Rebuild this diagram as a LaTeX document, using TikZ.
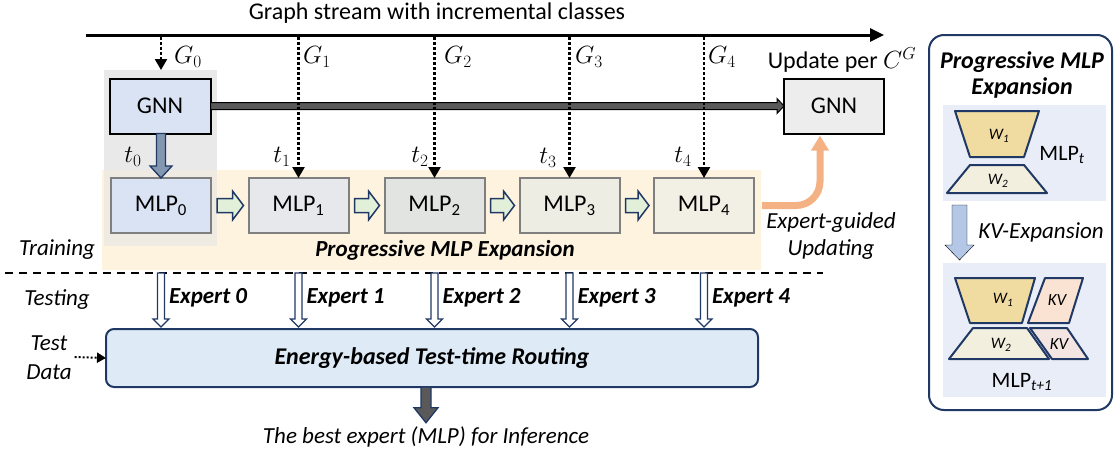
\documentclass[tikz,border=0pt]{standalone}
\usepackage{fontspec}
\setmainfont{Carlito}
\usetikzlibrary{arrows.meta,calc}

\definecolor{navy}{HTML}{203864}
\definecolor{gnnfill}{HTML}{DAE3F3}
\definecolor{gnnright}{HTML}{EDEDED}
\definecolor{mlpa}{HTML}{E6E8EB}
\definecolor{mlpb}{HTML}{E1E4E0}
\definecolor{mlpc}{HTML}{EEEDE3}
\definecolor{mlpd}{HTML}{F2EFE5}
\definecolor{mlpedge}{HTML}{7F7F7F}
\definecolor{stagebg}{HTML}{FEF3DF}
\definecolor{firstbg}{HTML}{E9E9E9}
\definecolor{overlapbg}{HTML}{F0EBE2}
\definecolor{routefill}{HTML}{DEEBF7}
\definecolor{stepgreen}{HTML}{E2F0D9}
\definecolor{initblue}{HTML}{8497B0}
\definecolor{darkfill}{HTML}{595959}
\definecolor{updorange}{HTML}{F4B183}
\definecolor{panelbg}{HTML}{E9EDF7}
\definecolor{wonefill}{HTML}{F0DBA1}
\definecolor{wtwofill}{HTML}{F2EFDF}
\definecolor{kvtop}{HTML}{FBE3D3}
\definecolor{kvbot}{HTML}{F3E5E1}
\definecolor{expblue}{HTML}{B4C7E7}

% block arrow pointing down: style, tail, tip, half shaft, half head, head length
\newcommand\downblock[6]{%
  \draw[#1] ($(#2)+(-#4,0)$) -- ($(#3)+(-#4,-#6)$) -- ($(#3)+(-#5,-#6)$) -- (#3)
    -- ($(#3)+(#5,-#6)$) -- ($(#3)+(#4,-#6)$) -- ($(#2)+(#4,0)$) -- cycle;}
% block arrow pointing right: style, tail, tip, half shaft, half head, head length
\newcommand\rightblock[6]{%
  \draw[#1] ($(#2)+(0,-#4)$) -- ($(#3)+(-#6,-#4)$) -- ($(#3)+(-#6,-#5)$) -- (#3)
    -- ($(#3)+(-#6,#5)$) -- ($(#3)+(-#6,#4)$) -- ($(#2)+(0,#4)$) -- cycle;}

\begin{document}
\begin{tikzpicture}[x=1pt,y=-1pt,
  every node/.style={inner sep=0pt, outer sep=0pt},
  txt/.style={font=\fontsize{24}{28}\selectfont},
  lbl/.style={font=\fontsize{23}{27}\selectfont\itshape},
  bilbl/.style={font=\fontsize{23}{27}\selectfont\bfseries\itshape},
  mathlbl/.style={font=\fontsize{25}{29}\selectfont},
  gnnbox/.style={draw=black, line width=2pt, minimum width=101pt, minimum height=55pt, txt},
  mlpbox/.style={draw=mlpedge, line width=2pt, minimum width=100pt, minimum height=55pt, txt},
  routebox/.style={draw=navy, line width=2pt, fill=routefill, rounded corners=8pt,
    minimum width=652pt, minimum height=58pt, font=\fontsize{24}{28}\selectfont\bfseries\itshape},
  stream/.style={line width=2.5pt, dash pattern=on 2.5pt off 2.5pt, -{Triangle[width=12pt,length=11pt]}},
  tdarrow/.style={line width=2pt, dash pattern=on 2pt off 2pt, -{Triangle[width=10pt,length=9pt]}},
  hollowarrow/.style={draw=navy, line width=1.3pt, fill=white, line join=miter},
  greenarrow/.style={draw=navy, line width=1.5pt, fill=stepgreen, line join=miter},
  initarrow/.style={draw=navy, line width=1.3pt, fill=initblue, line join=miter},
  flowarrow/.style={draw=black, line width=1pt, fill=darkfill, line join=miter},
  outarrow/.style={draw=navy, line width=1.3pt, fill=darkfill, line join=miter},
  wlayer/.style={draw=navy, line width=2pt, line join=round},
  wlbl/.style={font=\fontsize{16}{18}\selectfont\itshape},
  kvlbl/.style={font=\fontsize{17}{19}\selectfont\itshape},
]
\useasboundingbox (0,0) rectangle (1120,450);

% stage backgrounds
\fill[stagebg] (102,170) rectangle (761,270);
\fill[firstbg] (104,70) rectangle (217,170);
\fill[overlapbg] (104,170) rectangle (217,246);

% title and stream axis
\node[txt] (title) at (437,13) {Graph stream with incremental classes};
\coordinate (tlA) at (86,35);
\coordinate (tlB) at (884,35);
\draw[line width=3pt, -{Triangle[width=13pt,length=14pt]}] (tlA) -- (tlB);

% GNN backbones
\node[gnnbox, fill=gnnfill] (gnnA) at (160,106) {GNN};
\node[gnnbox, fill=gnnright, minimum width=100pt] (gnnB) at (834,106) {GNN};
\node[txt] (upd) at (842,60) {Update per $C^{G}$};

% MLP experts
\foreach \i/\x/\c in {0/161/gnnfill,1/298.5/mlpa,2/434.5/mlpb,3/569.5/mlpc,4/704/mlpd}
  \node[mlpbox, fill=\c] (mlp\i) at (\x,205.5) {MLP\textsubscript{\i}};

% backbone carried forward
\rightblock{flowarrow}{gnnA.east}{gnnB.west}{3.5}{7.5}{7}

% initial distillation into the first expert
\coordinate (ia) at (mlp0.north |- gnnA.south);
\downblock{initarrow}{ia}{mlp0.north}{4.5}{11}{12}

% arrival of each graph snapshot
\coordinate (g0end) at (161,70);
\draw[stream] (g0end |- tlA) ++(0,2) -- (g0end);
\foreach \i in {1,...,4}
  \draw[stream] ($(mlp\i.north |- tlA)+(0,2)$) -- (mlp\i.north);

\node[mathlbl] (G0) at (188,57) {$G_0$};
\node[mathlbl] (G1) at (317,57) {$G_1$};
\node[mathlbl] (G2) at (458,57) {$G_2$};
\node[mathlbl] (G3) at (589,57) {$G_3$};
\node[mathlbl] (G4) at (722,57) {$G_4$};
\node[mathlbl] (t0) at (133,157) {$t_0$};
\node[mathlbl] (t1) at (282,157) {$t_1$};
\node[mathlbl] (t2) at (420,157) {$t_2$};
\node[mathlbl] (t3) at (548,158) {$t_3$};
\node[mathlbl] (t4) at (683,157) {$t_4$};

% progressive expansion steps
\foreach \i/\j in {0/1,1/2,2/3,3/4}{
  \coordinate (ga\i) at ($(mlp\i.east)+(6,0)$);
  \coordinate (gb\i) at ($(mlp\j.west)+(-5,0)$);
  \rightblock{greenarrow}{ga\i}{gb\i}{7}{14.5}{11}
}

% expert-guided update of the backbone
\coordinate (ou) at ($(mlp4.east)+(8,0)$);
\coordinate (ot) at ($(gnnB.south)+(-14,2)$);
\draw[updorange, line width=7pt, rounded corners=24pt,
  -{Triangle[width=17pt,length=15pt]}] (ou) -| (ot);
\node[lbl, align=center] (egu) at (831,236) {Expert-guided\\Updating};

\node[lbl] (train) at (57,250) {Training};
\node[bilbl] (pme) at (445,250) {Progressive MLP Expansion};

% training / testing separator
\coordinate (sepL) at (5,273);
\coordinate (sepR) at (823,273);
\draw[line width=2pt, dash pattern=on 8pt off 6pt] (sepL) -- (sepR);
\node[lbl] (test) at (57,300) {Testing};

% test-time routing
\node[routebox] (route) at (432,358) {Energy-based Test-time Routing};
\foreach \i in {0,...,4}{
  \coordinate (e\i) at (mlp\i.south |- sepL);
  \coordinate (f\i) at ($(mlp\i.south |- route.north)+(0,-2)$);
  \downblock{hollowarrow}{e\i}{f\i}{3.5}{8}{8}
  \node[bilbl, anchor=west] (ex\i) at ($(e\i)+(8,25)$) {Expert \i};
}

\node[lbl, align=center, font=\fontsize{23}{29}\selectfont\itshape] (testd) at (49,358) {Test\\Data};
\coordinate (td) at ($(testd.east)+(3,-1)$);
\draw[tdarrow] (td) -- (route.west);

\node[lbl, font=\fontsize{23}{27}\selectfont\itshape] (best) at (426,437) {The best expert (MLP) for Inference};
\coordinate (bo1) at (best.north |- route.south);
\coordinate (bo2) at ($(best.north)+(0,-4)$);
\downblock{outarrow}{bo1}{bo2}{5}{12}{15}

% side panel: progressive MLP expansion
\draw[navy, line width=2pt, rounded corners=15pt] (929,35) rectangle (1112,410);
\node[font=\fontsize{24}{26}\selectfont\bfseries\itshape, align=center] (ptitle) at (1022,75) {Progressive MLP\\Expansion};

\fill[panelbg] (943,105) rectangle (1106,201);
\fill[panelbg] (943,263) rectangle (1106,397);

\draw[wlayer, fill=wonefill] (955,111) -- (1039,111) -- (1024,157) -- (970,157) -- cycle;
\draw[wlayer, fill=wtwofill] (970,165) -- (1024,165) -- (1047,193) -- (947,193) -- cycle;
\node[wlbl] (w1a) at (999,136) {W\textsubscript{1}};
\node[wlbl] (w2a) at (998,181) {W\textsubscript{2}};
\node[font=\fontsize{22}{26}\selectfont] (mlpt) at (1062,155) {MLP\textsubscript{\textit{t}}};

\coordinate (pa) at (959.5,205);
\coordinate (pb) at (959.5,260);
\downblock{fill=expblue}{pa}{pb}{7.5}{14.5}{15}
\node[lbl] (kvexp) at (1041,232) {KV-Expansion};

\draw[wlayer, fill=wonefill] (955,278) -- (1035,278) -- (1022,323) -- (970,323) -- cycle;
\draw[wlayer, fill=kvtop] (1045,278) -- (1083,278) -- (1069,323) -- (1028,323) -- cycle;
\draw[wlayer, fill=wtwofill] (973,328) -- (1027,328) -- (1049,359) -- (949,359) -- cycle;
\draw[wlayer, fill=kvbot] (1030,328) -- (1067,328) -- (1088,359) -- (1052,359) -- cycle;
\node[wlbl] (w1b) at (1003,300) {W\textsubscript{1}};
\node[kvlbl] (kva) at (1057,300) {KV};
\node[wlbl] (w2b) at (1001,345) {W\textsubscript{2}};
\node[kvlbl] (kvb) at (1059,344) {KV};
\node[font=\fontsize{22}{26}\selectfont] (mlpt1) at (1022,382) {MLP\textsubscript{\textit{t+1}}};
\end{tikzpicture}
\end{document}
